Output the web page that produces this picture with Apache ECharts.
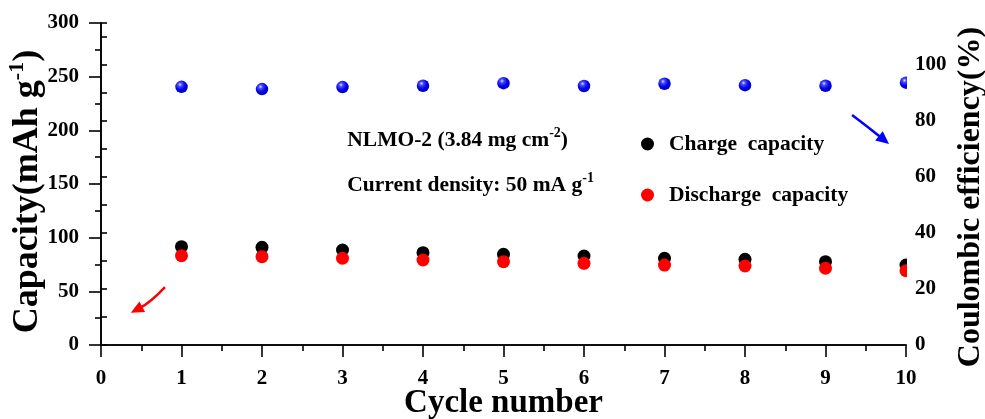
<!DOCTYPE html>
<html>
<head>
<meta charset="utf-8">
<script src="https://cdn.jsdelivr.net/npm/echarts@6/dist/echarts.min.js"></script>
<style>
  html, body { margin: 0; padding: 0; background: #fff; }
  #chart { width: 985px; height: 419px; }
</style>
</head>
<body>
<div id="chart"></div>
<script>
// Cycling data for NLMO-2 at 50 mA g-1
const cycles = [1, 2, 3, 4, 5, 6, 7, 8, 9, 10];
const chargeCapacity = [91.6, 91.0, 88.5, 86.0, 84.5, 82.9, 80.8, 79.8, 77.6, 74.5];
const dischargeCapacity = [83.2, 82.3, 80.8, 79.2, 77.6, 76.1, 74.5, 73.6, 71.5, 69.2];
const coulombicEfficiency = [92.2, 91.4, 92.1, 92.6, 93.5, 92.5, 93.3, 92.8, 92.6, 93.7];

const capacityRange = [0, 300];
const efficiencyRange = [0, 115];
const cycleRange = [0, 10];

const FONT = 'Liberation Serif';
const black = '#000';

const pairs = (xs, ys) => xs.map((x, i) => [x, ys[i]]);

const tickLabel = { fontFamily: FONT, fontWeight: 'bold', fontSize: 21, color: black };
const axisTitle = { fontFamily: FONT, fontWeight: 'bold', fontSize: 33, color: black };
const leftTitle = { fontFamily: FONT, fontWeight: 'bold', fontSize: 36, color: black };
const supStyle = { fontFamily: FONT, fontWeight: 'bold', fontSize: 22, lineHeight: 22, verticalAlign: 'top', color: black };
const lineStyle = { color: black, width: 1.6 };

const chart = echarts.init(document.getElementById('chart'), null, { renderer: 'canvas' });

chart.setOption({
  backgroundColor: '#fff',
  animation: false,
  grid: { left: 101, right: 79, top: 23, bottom: 74, outerBoundsMode: 'none', containLabel: false },
  legend: {
    orient: 'vertical',
    left: 636,
    top: 128,
    itemGap: 29,
    itemWidth: 13,
    itemHeight: 13,
    selectedMode: false,
    data: ['Charge capacity', 'Discharge capacity'],
    formatter: name => name.replace(' ', '  '),
    textStyle: { fontFamily: FONT, fontWeight: 'bold', fontSize: 21.5, color: black, padding: [0, 0, 0, 10] }
  },
  xAxis: [
    {
      type: 'value', min: cycleRange[0], max: cycleRange[1], interval: 1, z: 10,
      axisLine: { lineStyle },
      axisTick: { length: 12, lineStyle },
      minorTick: { show: true, splitNumber: 2, length: 6, lineStyle },
      splitLine: { show: false },
      axisLabel: { ...tickLabel, margin: 23 },
      name: 'Cycle number', nameLocation: 'middle', nameGap: 42, nameMoveOverlap: false,
      nameTextStyle: axisTitle
    },
    {
      type: 'value', position: 'top', min: cycleRange[0], max: cycleRange[1], z: 10,
      axisLine: { lineStyle }, axisTick: { show: false }, axisLabel: { show: false }, splitLine: { show: false }
    }
  ],
  yAxis: [
    {
      type: 'value', min: capacityRange[0], max: capacityRange[1], interval: 50, z: 10,
      axisLine: { show: true, lineStyle },
      axisTick: { length: 12, lineStyle },
      minorTick: { show: true, splitNumber: 2, length: 6, lineStyle },
      splitLine: { show: false },
      axisLabel: { ...tickLabel, margin: 22 },
      name: '{t|Capacity(mAh g}{s|-1}{t|)}', nameLocation: 'middle', nameGap: 51, nameMoveOverlap: false,
      nameTextStyle: { ...leftTitle, padding: [0, 15, 0, 0], rich: { t: { ...leftTitle, lineHeight: 44 }, s: supStyle } }
    },
    {
      type: 'value', position: 'right', min: efficiencyRange[0], max: efficiencyRange[1], interval: 10, z: 10,
      axisLine: { show: true, lineStyle },
      axisTick: { length: 6, lineStyle },
      splitLine: { show: false },
      axisLabel: { ...tickLabel, margin: 9, formatter: v => (v % 20 === 0 ? String(v) : '') },
      name: 'Coulombic efficiency(%)', nameLocation: 'middle', nameGap: 49, nameMoveOverlap: false,
      nameTextStyle: { ...axisTitle, fontSize: 32, padding: [0, 26, 0, 0] }
    }
  ],
  series: [
    {
      name: 'Charge capacity', type: 'scatter', symbol: 'circle', symbolSize: 13,
      itemStyle: { color: '#000', opacity: 1 },
      data: pairs(cycles, chargeCapacity), z: 2
    },
    {
      name: 'Discharge capacity', type: 'scatter', symbol: 'circle', symbolSize: 13,
      itemStyle: { color: '#ff0000', opacity: 1 },
      data: pairs(cycles, dischargeCapacity), z: 3
    },
    {
      name: 'Coulombic efficiency', type: 'scatter', symbol: 'circle', symbolSize: 12.5, yAxisIndex: 1,
      itemStyle: {
        opacity: 1,
        color: {
          type: 'radial', x: 0.38, y: 0.32, r: 0.7,
          colorStops: [
            { offset: 0, color: '#e6e6ff' },
            { offset: 0.22, color: '#4a4aff' },
            { offset: 0.6, color: '#0000f2' },
            { offset: 1, color: '#0000b0' }
          ]
        }
      },
      data: pairs(cycles, coulombicEfficiency), z: 2
    }
  ]
});

// Annotations placed in capacity/cycle coordinates
const px = (x, y) => chart.convertToPixel({ xAxisIndex: 0, yAxisIndex: 0 }, [x, y]);

function arrow(from, ctrl, tip, color) {
  const a = px(from[0], from[1]), c = px(ctrl[0], ctrl[1]), t = px(tip[0], tip[1]);
  const dx = t[0] - c[0], dy = t[1] - c[1];
  const len = Math.hypot(dx, dy), ux = dx / len, uy = dy / len;
  const headLen = 13, headW = 6;
  const bx = t[0] - ux * headLen, by = t[1] - uy * headLen;
  return [
    {
      type: 'bezierCurve', z: 20,
      shape: { x1: a[0], y1: a[1], cpx1: c[0], cpy1: c[1], x2: bx + ux * 3, y2: by + uy * 3 },
      style: { stroke: color, lineWidth: 2.5, fill: null }
    },
    {
      type: 'polygon', z: 20,
      shape: { points: [t, [bx - uy * headW, by + ux * headW], [bx + uy * headW, by - ux * headW]] },
      style: { fill: color }
    }
  ];
}

function note(x, y, text, rich) {
  const p = px(x, y);
  return {
    type: 'text', x: p[0], y: p[1], z: 20,
    style: { text, rich, fill: black, verticalAlign: 'middle', align: 'left' }
  };
}

const noteMain = { fontFamily: FONT, fontWeight: 'bold', fontSize: 21.5, lineHeight: 28, color: black };
const noteSup = { fontFamily: FONT, fontWeight: 'bold', fontSize: 14, lineHeight: 14, verticalAlign: 'top', color: black };

// Points at the last cycle are cut at the right frame
const edge = px(cycleRange[1], capacityRange[1]);
const base = px(cycleRange[1], capacityRange[0]);

chart.setOption({
  graphic: [
    {
      type: 'rect', z: 5,
      shape: { x: edge[0] + 1, y: edge[1], width: 8, height: base[1] - edge[1] },
      style: { fill: '#fff' }
    },
    note(3.06, 191, '{m|NLMO-2 (3.84 mg cm}{s|-2}{m|)}', { m: noteMain, s: noteSup }),
    note(3.06, 149, '{m|Current density: 50 mA g}{s|-1}', { m: noteMain, s: noteSup }),
    ...arrow([0.795, 54.0], [0.62, 40.0], [0.37, 30.0], '#ff0000'),
    ...arrow([9.33, 214.3], [9.53, 203.0], [9.79, 187.3], '#0000ff')
  ]
});
</script>
</body>
</html>
